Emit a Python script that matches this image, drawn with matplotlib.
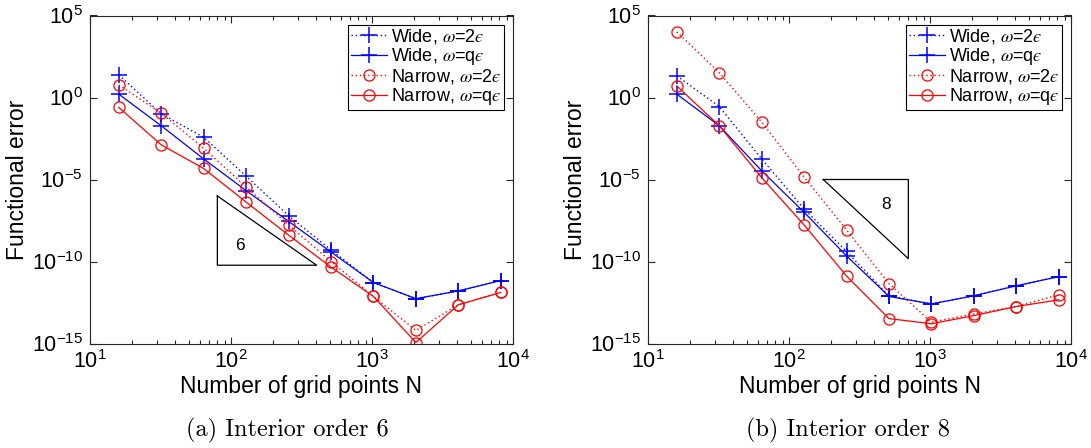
import matplotlib
matplotlib.use("Agg")
import matplotlib.pyplot as plt
from matplotlib.ticker import LogLocator, NullLocator, FixedLocator

plt.rcParams.update({
    'font.family': ['Liberation Sans', 'DejaVu Sans'],
    'mathtext.fontset': 'stix',
    'axes.unicode_minus': False,
})

# ---------------- data ----------------
N = [16, 32, 64, 128, 256, 512, 1024, 2048, 4096, 8192]

# (a) Interior order 6
wide_2e_a   = [24, 0.10, 3.8e-3, 1.6e-5, 6.2e-8, 5.1e-10, 5.2e-12, 5.4e-13, 1.6e-12, 6.9e-12]
wide_qe_a   = [1.6, 1.9e-2, 1.8e-4, 2.1e-6, 2.8e-8, 3.8e-10, 5.2e-12, 5.4e-13, 1.6e-12, 6.9e-12]
narrow_2e_a = [5.9, 0.11, 8.1e-4, 3.5e-6, 1.7e-8, 1.0e-10, 7.4e-13, 6.3e-15, 2.3e-13, 1.3e-12]
narrow_qe_a = [0.25, 1.3e-3, 4.7e-5, 4.2e-7, 4.1e-9, 4.6e-11, 7.4e-13, 1.15e-15, 2.3e-13, 1.3e-12]

# (b) Interior order 8
wide_2e_b   = [21, 0.28, 1.8e-4, 1.6e-7, 4.1e-10, 7.9e-13, 2.6e-13, 8.1e-13, 3.3e-12, 1.2e-11]
wide_qe_b   = [1.6, 1.9e-2, 3.4e-5, 1.0e-7, 2.2e-10, 7.4e-13, 2.6e-13, 8.1e-13, 3.3e-12, 1.2e-11]
narrow_2e_b = [1.0e4, 33, 3.2e-2, 1.4e-5, 8.5e-9, 4.4e-12, 2.0e-14, 6.3e-14, 1.8e-13, 9.3e-13]
narrow_qe_b = [5.1, 1.9e-2, 1.3e-5, 1.7e-8, 1.3e-11, 3.3e-14, 1.6e-14, 5.0e-14, 1.8e-13, 4.6e-13]

labels = ['Wide, $\\omega$=2$\u03f5$', 'Wide, $\\omega$=q$\u03f5$',
          'Narrow, $\\omega$=2$\u03f5$', 'Narrow, $\\omega$=q$\u03f5$']
xticks = [1e1, 1e2, 1e3, 1e4]
yticks = [1e-15, 1e-10, 1e-5, 1e0, 1e5]
captions = ['(a) Interior order 6', '(b) Interior order 8']

# slope triangles: (x start, y at start, x end, order, label position)
tri_a = dict(x0=80, y0=1e-6, x1=405, order=6, lx=115, ly=1.0e-9)
tri_b = dict(x0=175, y0=1e-5, x1=702, order=8, lx=485, ly=3.2e-7)

# ---------------- figure ----------------
W, H = 1091, 448
fig = plt.figure(figsize=(W / 100, H / 100), dpi=100)
axA = fig.add_axes([90 / W, 1 - 343.5 / H, 423 / W, 328 / H])
axB = fig.add_axes([648 / W, 1 - 343.5 / H, 423 / W, 328 / H])

dot = (0, (1, 2))


def draw(ax, w2, wq, n2, nq, tri, caption, cx):
    ax.plot(N, w2, color='blue', ls=dot, lw=1.0, marker='+', ms=11, mew=1.1, label=labels[0])
    ax.plot(N, wq, color='blue', ls='-', lw=0.9, marker='+', ms=11, mew=1.1, label=labels[1])
    ax.plot(N, n2, color='red', ls=dot, lw=1.0, marker='o', ms=8, mfc='none', mew=0.9, label=labels[2])
    ax.plot(N, nq, color='red', ls='-', lw=0.9, marker='o', ms=8, mfc='none', mew=0.9, label=labels[3])

    # slope triangle
    y1 = tri['y0'] * (tri['x1'] / tri['x0']) ** (-tri['order'])
    if tri['order'] == 6:
        xs = [tri['x0'], tri['x0'], tri['x1'], tri['x0']]
        ys = [tri['y0'], y1, y1, tri['y0']]
    else:
        xs = [tri['x0'], tri['x1'], tri['x1'], tri['x0']]
        ys = [tri['y0'], tri['y0'], y1, tri['y0']]
    ax.plot(xs, ys, color='black', lw=0.9)
    ax.text(tri['lx'], tri['ly'], str(tri['order']), fontsize=12.5, ha='center', va='center')

    ax.set_xscale('log')
    ax.set_yscale('log')
    ax.set_xlim(1e1, 1e4)
    ax.set_ylim(1e-15, 1e5)
    ax.xaxis.set_major_locator(FixedLocator(xticks))
    ax.xaxis.set_minor_locator(LogLocator(base=10, subs=range(2, 10), numticks=20))
    ax.yaxis.set_major_locator(FixedLocator(yticks))
    ax.yaxis.set_minor_locator(NullLocator())
    ax.tick_params(which='both', direction='in', top=True, right=True, labelsize=15.5,
                   width=0.8, color='#262626')
    ax.tick_params(which='major', length=5, pad=5)
    ax.tick_params(which='minor', length=3)
    for s in ax.spines.values():
        s.set_linewidth(0.8)
        s.set_color('#262626')
    ax.set_xlabel('Number of grid points N', fontsize=16.5, labelpad=1)
    ax.set_ylabel('Functional error', fontsize=16.5, labelpad=2)
    leg = ax.legend(loc='upper right', fontsize=13, frameon=True, fancybox=False,
                    edgecolor='black', framealpha=1, borderaxespad=0.5,
                    labelspacing=0.0, borderpad=0.15, handlelength=2.0,
                    handletextpad=0.2, numpoints=1)
    leg.get_frame().set_linewidth(0.8)
    fig.text(cx / W, 1 - 430 / H, caption, family='cmr10', fontsize=17.5,
             ha='center', va='center')


draw(axA, wide_2e_a, wide_qe_a, narrow_2e_a, narrow_qe_a, tri_a, captions[0], 287.5)
draw(axB, wide_2e_b, wide_qe_b, narrow_2e_b, narrow_qe_b, tri_b, captions[1], 848)

fig.savefig('out.png', dpi=100)
